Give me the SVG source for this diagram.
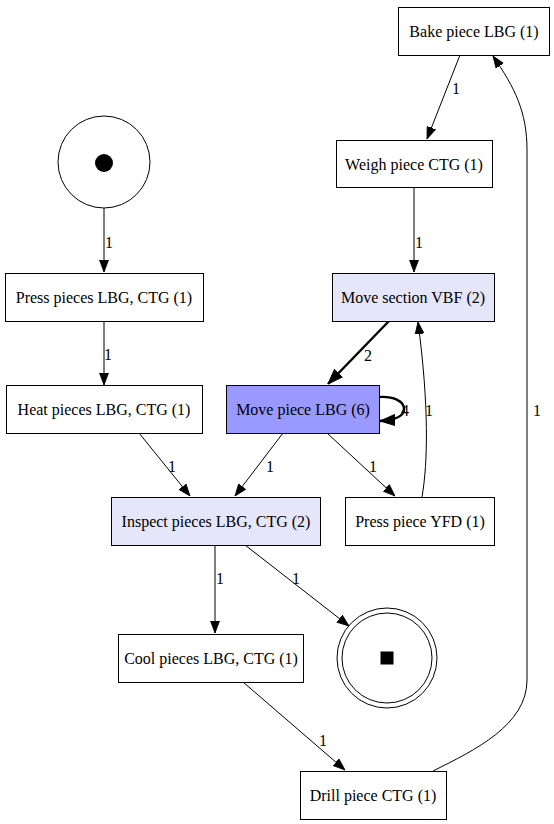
<svg xmlns="http://www.w3.org/2000/svg" width="554" height="824" viewBox="0 0 554 824">
  <style>
    .box { fill: #ffffff; stroke: #000000; stroke-width: 1; }
    .lav { fill: #e6e6fa; }
    .hot { fill: #9999ff; }
    .edge { fill: none; stroke: #000000; stroke-width: 1; }
    .bold { stroke-width: 2.4; }
    .lbl { text-anchor: middle; }
  </style>
  <defs>
    <marker id="arrow" viewBox="0 0 12 10" refX="12" refY="5" markerWidth="12" markerHeight="10" markerUnits="userSpaceOnUse" orient="auto">
      <path d="M0,0.5 L12,5 L0,9.5 Z" fill="#000000" stroke="#000000" stroke-width="0.8"/>
    </marker>
    <marker id="arrowBold" viewBox="0 0 15 12" refX="15" refY="6" markerWidth="15" markerHeight="12" markerUnits="userSpaceOnUse" orient="auto">
      <path d="M0,0.5 L15,6 L0,11.5 Z" fill="#000000" stroke="#000000" stroke-width="1"/>
    </marker>
  </defs>
  <rect width="554" height="824" fill="#ffffff"/>

  <g font-family="'Liberation Serif', 'DejaVu Serif', 'Times New Roman', serif" font-size="16" fill="#000000">
  <!-- connectors -->
  <g id="edges">
    <path class="edge" d="M104,208 L104,272" marker-end="url(#arrow)"/>
    <text x="105" y="248">1</text>

    <path class="edge" d="M104,321 L104,385" marker-end="url(#arrow)"/>
    <text x="104" y="360">1</text>

    <path class="edge" d="M139,433 L190,496" marker-end="url(#arrow)"/>
    <text x="168" y="472">1</text>

    <path class="edge" d="M283,433 L235,496" marker-end="url(#arrow)"/>
    <text x="266" y="472">1</text>

    <path class="edge" d="M327,433 L395,496" marker-end="url(#arrow)"/>
    <text x="369" y="472">1</text>

    <path class="edge bold" d="M389,321 L328,384" marker-end="url(#arrowBold)"/>
    <text x="364" y="361">2</text>

    <path class="edge bold" d="M379,397 C393,396 404,401 404,409 C404,416 396,420 380,421" marker-end="url(#arrowBold)"/>
    <text x="401" y="416">4</text>

    <path class="edge" d="M422,497 C428,462 429,405 418,322" marker-end="url(#arrow)"/>
    <text x="425" y="416">1</text>

    <path class="edge" d="M460,55 L427,139" marker-end="url(#arrow)"/>
    <text x="452" y="94">1</text>

    <path class="edge" d="M414,187 L414,272" marker-end="url(#arrow)"/>
    <text x="415" y="248">1</text>

    <path class="edge" d="M215,545 L215,633" marker-end="url(#arrow)"/>
    <text x="216" y="584">1</text>

    <path class="edge" d="M245,545 L349,626" marker-end="url(#arrow)"/>
    <text x="292" y="584">1</text>

    <path class="edge" d="M243,682 L345,770" marker-end="url(#arrow)"/>
    <text x="319" y="746">1</text>

    <path class="edge" d="M433,771 C475,750 527,725 527,680 L527,150 C527,112 515,88 493,56" marker-end="url(#arrow)"/>
    <text x="533" y="416">1</text>
  </g>

  <!-- places -->
  <g id="start">
    <circle cx="104" cy="162" r="46" fill="#ffffff" stroke="#000000"/>
    <circle cx="104" cy="163" r="9" fill="#000000"/>
  </g>
  <g id="end">
    <circle cx="387" cy="658" r="50" fill="#ffffff" stroke="#000000"/>
    <circle cx="387" cy="658" r="45" fill="none" stroke="#000000"/>
    <rect x="380.5" y="651.5" width="13" height="13" fill="#000000"/>
  </g>

  <!-- transitions -->
  <g id="bake_lbg">
    <rect class="box" x="398.5" y="7.5" width="151" height="48"/>
    <text class="lbl" x="474" y="37">Bake piece LBG (1)</text>
  </g>
  <g id="weigh_ctg">
    <rect class="box" x="336.5" y="140.5" width="156" height="47"/>
    <text class="lbl" x="414" y="170">Weigh piece CTG (1)</text>
  </g>
  <g id="move_vbf">
    <rect class="box lav" x="332.5" y="273.5" width="162" height="48"/>
    <text class="lbl" x="413" y="303">Move section VBF (2)</text>
  </g>
  <g id="move_lbg">
    <rect class="box hot" x="226.5" y="385.5" width="153" height="48"/>
    <text class="lbl" x="303" y="415">Move piece LBG (6)</text>
  </g>
  <g id="press_yfd">
    <rect class="box" x="345.5" y="497.5" width="149" height="48"/>
    <text class="lbl" x="420" y="527">Press piece YFD (1)</text>
  </g>
  <g id="press_lbg_ctg">
    <rect class="box" x="5.5" y="273.5" width="198" height="48"/>
    <text class="lbl" x="104" y="303">Press pieces LBG, CTG (1)</text>
  </g>
  <g id="heat_lbg_ctg">
    <rect class="box" x="6.5" y="385.5" width="196" height="48"/>
    <text class="lbl" x="104" y="415">Heat pieces LBG, CTG (1)</text>
  </g>
  <g id="inspect_lbg_ctg">
    <rect class="box lav" x="111.5" y="497.5" width="209" height="48"/>
    <text class="lbl" x="216" y="527">Inspect pieces LBG, CTG (2)</text>
  </g>
  <g id="cool_lbg_ctg">
    <rect class="box" x="118.5" y="634.5" width="185" height="48"/>
    <text class="lbl" x="211" y="664">Cool pieces LBG, CTG (1)</text>
  </g>
  <g id="drill_ctg">
    <rect class="box" x="300.5" y="771.5" width="146" height="48"/>
    <text class="lbl" x="373" y="801">Drill piece CTG (1)</text>
  </g>
  </g>
</svg>
